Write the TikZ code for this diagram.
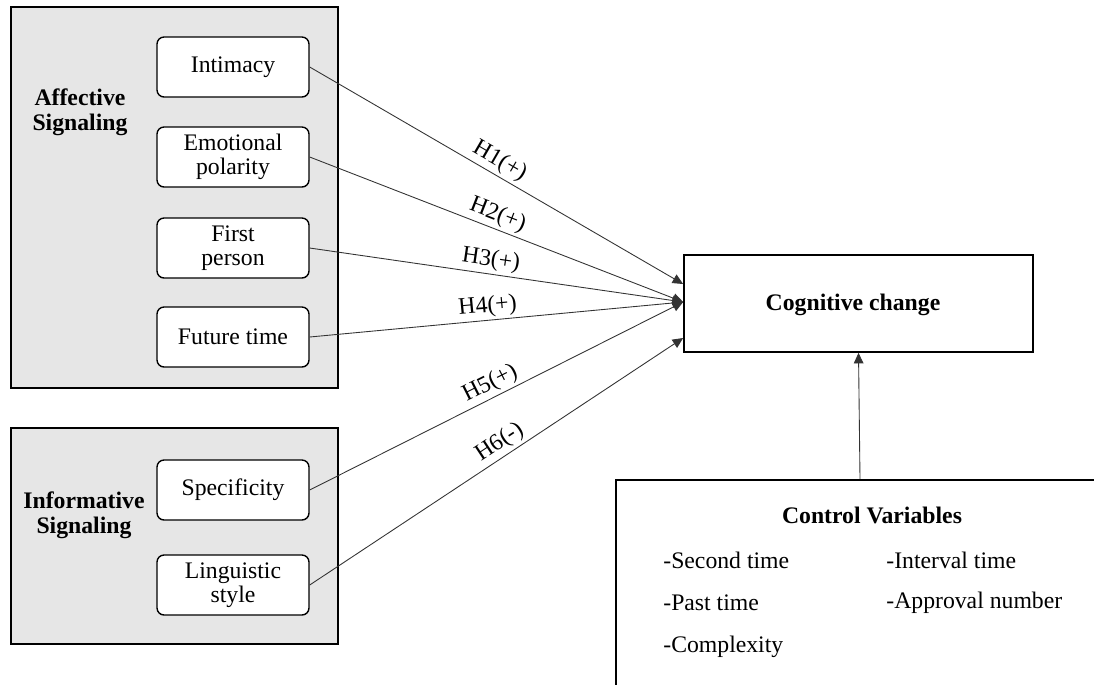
\documentclass[tikz,border=0pt]{standalone}
\usepackage{fontspec}
\setmainfont{Liberation Serif}
\usetikzlibrary{arrows.meta}
\definecolor{panelgray}{HTML}{E6E6E6}
\newcommand{\figfont}{\fontsize{13.5}{14}\selectfont}
\tikzset{
	panel/.style={draw=black, line width=0.9pt, fill=panelgray},
	item/.style={draw=black, line width=0.8pt, fill=white, rounded corners=4pt, minimum width=3.04cm, minimum height=1.2cm, align=center, inner sep=1pt},
	heading/.style={font=\figfont\bfseries, align=center},
	hypline/.style={draw=black!80, line width=0.5pt, -{Triangle[length=6pt,width=5.5pt]}},
	hyp/.style={sloped, above, inner sep=1.5pt},
	ctrltext/.style={anchor=west, inner sep=0pt}
}

\begin{document}
\begin{tikzpicture}[x=0.02cm, y=-0.02cm, font=\figfont]
				\clip (0,0) rectangle (1094,684);
				
				\draw[panel] (11,7) rectangle (338,388);
				\node[heading] (affect) at (80,112) {Affective\\Signaling};
				\node[item] (intimacy) at (233,67) {Intimacy};
				\node[item] (emotion) at (233,157) {Emotional\\polarity};
				\node[item] (firstp) at (233,248) {First\\person};
				\node[item] (future) at (233,337) {Future time};
				
				\draw[panel] (11,428) rectangle (338,644);
				\node[heading] (inform) at (84,515) {Informative\\Signaling};
				\node[item] (specific) at (233,490) {Specificity};
				\node[item] (lingstyle) at (233,585) {Linguistic\\style};
				
				\node[draw, line width=1pt, minimum width=6.98cm, minimum height=1.94cm] (cog) at (858.5,303.5) {};
				\node[heading] (cogtext) at (853,305) {Cognitive change};
				\coordinate (h1in) at ([yshift=0.39cm]cog.west);
				\coordinate (hmid) at ([yshift=0.03cm]cog.west);
				\coordinate (h6in) at ([yshift=-0.69cm]cog.west);
				
				\draw[hypline] (intimacy.east) -- (h1in) node[hyp, pos=0.49] {H1(+)};
				\draw[hypline] (emotion.east) -- (hmid) node[hyp, pos=0.49] {H2(+)};
				\draw[hypline] (firstp.east) -- (hmid) node[hyp, pos=0.48] {H3(+)};
				\draw[hypline] (future.east) -- (hmid) node[hyp, pos=0.48] {H4(+)};
				\draw[hypline] (specific.east) -- (hmid) node[hyp, pos=0.5] {H5(+)};
				\draw[hypline] (lingstyle.east) -- (h6in) node[hyp, pos=0.53] {H6(-)};
				
				\node[draw, line width=1pt, minimum width=9.76cm, minimum height=4.4cm] (ctrl) at (860,590) {};
				\node[heading] (ctrltitle) at (872,515) {Control Variables};
				\node[ctrltext] (second) at (663,560) {-Second time};
				\node[ctrltext] (interval) at (886,560) {-Interval time};
				\node[ctrltext] (past) at (663,603) {-Past time};
				\node[ctrltext] (approval) at (886,603) {-Approval number};
				\node[ctrltext] (complex) at (663,647) {-Complexity};
				\draw[hypline] (ctrl.north) -- (cog.south);
			\end{tikzpicture}
\end{document}
